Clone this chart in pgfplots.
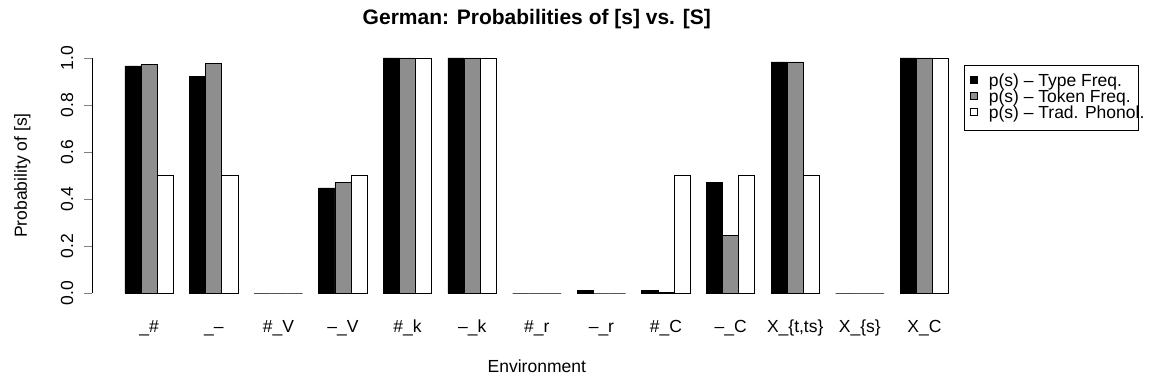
\documentclass[border=0pt]{standalone}
\usepackage{fontspec}
\setmainfont{Liberation Sans}
\usepackage{pgfplots}
\usepackage{pgfplotstable}
\pgfplotsset{compat=1.18}

\definecolor{bargray}{HTML}{8E8E8E}

% g = centre of each environment group (bars at g-1, g, g+1)
\pgfplotstableread{
g    a      b      c
2.5  0.966  0.974  0.5
6.5  0.923  0.977  0.5
10.5 0      0      0
14.5 0.447  0.470  0.5
18.5 1      1      1
22.5 1      1      1
26.5 0      0      0
30.5 0.012  0      0
34.5 0.012  0.004  0.5
38.5 0.472  0.243  0.5
42.5 0.983  0.983  0.5
46.5 0      0      0
50.5 1      1      1
}\probs

\newcommand{\basefont}{\fontsize{8.75}{10}\selectfont}

\begin{document}
\begin{tikzpicture}
\useasboundingbox (0,0) rectangle (577pt,192.5pt);
\begin{axis}[
  at={(46pt,46pt)}, anchor=south west,
  scale only axis, width=444.8pt, height=117.5pt,
  xmin=-1.04, xmax=54.04, ymin=0, ymax=1,
  clip=false,
  ybar,
  axis lines*=left,
  axis line style={-, line width=0.4pt},
  x axis line style={draw=none},
  xtick={2.5,6.5,...,50.5},
  xticklabels={\_\#, \_--, \#\_V, --\_V, \#\_k, --\_k, \#\_r, --\_r, \#\_C, --\_C, {X\_\{t,ts\}}, X\_\{s\}, X\_C},
  xtick style={draw=none},
  ytick={0,0.2,0.4,0.6,0.8,1},
  yticklabels={0.0,0.2,0.4,0.6,0.8,1.0},
  ytick style={line width=0.4pt},
  tick align=outside,
  major tick length=4pt,
  tick label style={font=\basefont},
  xticklabel style={anchor=base, yshift=-15.5pt},
  yticklabel style={anchor=base, xshift=-5.5pt, rotate=90},
  xlabel={Environment},
  xlabel style={at={(axis description cs:0.5,-0.3404)}, anchor=base, font=\basefont},
  ylabel={Probability of [s]},
  ylabel style={at={(axis description cs:-0.0731,0.5)}, anchor=base, font=\basefont},
  title={German: Probabilities of [s] vs. [S]},
  title style={at={(axis description cs:0.5,1.0894)}, anchor=base, font=\bfseries\fontsize{10.5}{12}\selectfont},
  legend image code/.code={%
    \draw[#1, line width=0.4pt] (0pt,-0.85pt) rectangle (3.5pt,2.65pt);
    \path[draw=none, fill=none] (0pt,-3pt) rectangle (9.25pt,3pt);},
  legend cell align=left,
  legend style={at={(0.9802,0.9702)}, anchor=north west,
    draw=black, line width=0.4pt, inner xsep=2.75pt, inner ysep=4.25pt,
    font=\basefont, nodes={inner sep=0pt}, row sep=0.2pt, column sep=0pt},
]
\addplot[bar width=1, bar shift=0pt, fill=black, draw=black, line width=0.4pt]
  table[x expr=\thisrow{g}-1, y=a] {\probs};
\addlegendentry{\makebox[72.25pt][l]{p(s) -- Type Freq.}}
\addplot[bar width=1, bar shift=0pt, fill=bargray, draw=black, line width=0.4pt]
  table[x=g, y=b] {\probs};
\addlegendentry{\makebox[72.25pt][l]{p(s) -- Token Freq.}}
\addplot[bar width=1, bar shift=0pt, fill=white, draw=black, line width=0.4pt]
  table[x expr=\thisrow{g}+1, y=c] {\probs};
\addlegendentry{\makebox[72.25pt][l]{p(s) -- Trad. Phonol.}}
\end{axis}
\end{tikzpicture}
\end{document}
